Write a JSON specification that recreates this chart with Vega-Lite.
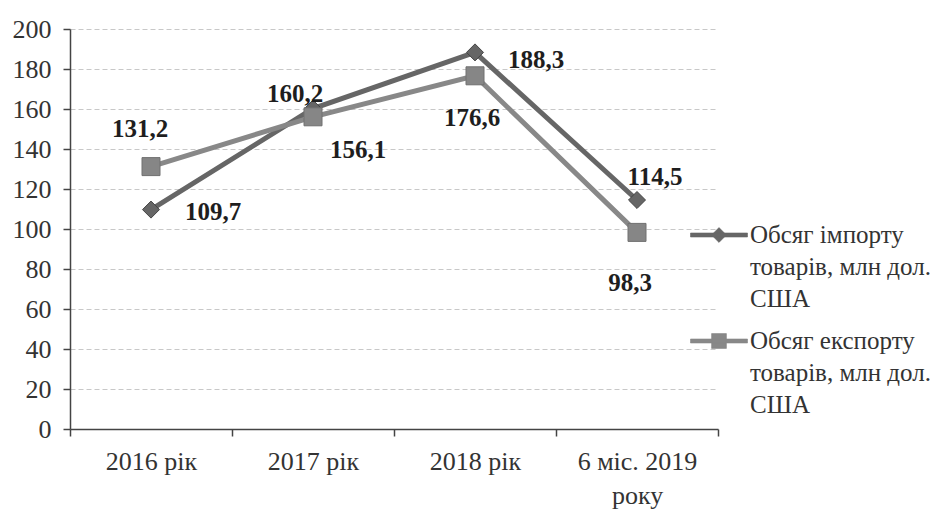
{
  "$schema": "https://vega.github.io/schema/vega-lite/v6.json",
  "width": 648,
  "height": 400,
  "autosize": "none",
  "padding": {"left": 70, "top": 29, "right": 229, "bottom": 82},
  "background": "white",
  "config": {
    "view": {"stroke": null},
    "font": "Liberation Serif, Times New Roman, serif",
    "locale": {"number": {"decimal": ",", "thousands": " ", "grouping": [3], "currency": ["", ""]}}
  },
  "data": {
    "values": [
      {"period": "2016 рік", "series": "Обсяг імпорту товарів, млн дол. США", "value": 109.7},
      {"period": "2017 рік", "series": "Обсяг імпорту товарів, млн дол. США", "value": 160.2},
      {"period": "2018 рік", "series": "Обсяг імпорту товарів, млн дол. США", "value": 188.3},
      {"period": "6 міс. 2019 року", "series": "Обсяг імпорту товарів, млн дол. США", "value": 114.5},
      {"period": "2016 рік", "series": "Обсяг експорту товарів, млн дол. США", "value": 131.2},
      {"period": "2017 рік", "series": "Обсяг експорту товарів, млн дол. США", "value": 156.1},
      {"period": "2018 рік", "series": "Обсяг експорту товарів, млн дол. США", "value": 176.6},
      {"period": "6 міс. 2019 року", "series": "Обсяг експорту товарів, млн дол. США", "value": 98.3}
    ]
  },
  "encoding": {
    "x": {
      "field": "period", "type": "nominal",
      "sort": ["2016 рік", "2017 рік", "2018 рік", "6 міс. 2019 року"],
      "scale": {"type": "band", "paddingInner": 0, "paddingOuter": 0},
      "axis": {
        "title": null, "labelAngle": 0, "tickBand": "extent", "grid": false,
        "domainColor": "#444", "domainWidth": 1.5, "tickColor": "#444", "tickWidth": 1.5, "tickSize": 7,
        "labelFont": "Liberation Serif, Times New Roman, serif", "labelFontSize": 26, "labelColor": "#333", "labelPadding": 12,
        "labelBaseline": "top", "labelLineHeight": 34,
        "labelExpr": "datum.label == '6 міс. 2019 року' ? ['6 міс. 2019', 'року'] : datum.label"
      }
    },
    "y": {
      "field": "value", "type": "quantitative",
      "scale": {"domain": [0, 200]},
      "axis": {
        "title": null, "values": [0, 20, 40, 60, 80, 100, 120, 140, 160, 180, 200],
        "domainColor": "#444", "domainWidth": 1.5, "tickColor": "#444", "tickWidth": 1.5, "tickSize": 7,
        "labelFont": "Liberation Serif, Times New Roman, serif", "labelFontSize": 26, "labelColor": "#333", "labelPadding": 12,
        "gridColor": "#c8c8c8", "gridDash": [5, 3], "gridWidth": 1
      }
    }
  },
  "layer": [
    {
      "mark": {"type": "line", "strokeWidth": 5},
      "encoding": {
        "color": {
          "field": "series", "type": "nominal",
          "scale": {"domain": ["Обсяг імпорту товарів, млн дол. США", "Обсяг експорту товарів, млн дол. США"], "range": ["#666666", "#888888"]},
          "legend": {
            "orient": "none", "legendX": 620, "legendY": 177, "title": null, "padding": 0,
            "labelFont": "Liberation Serif, Times New Roman, serif", "labelFontSize": 25, "labelColor": "#333", "labelLimit": 0,
            "labelOffset": 2, "labelBaseline": "top", "rowPadding": -9, "symbolSize": 3249,
            "labelExpr": "datum.label == 'Обсяг імпорту товарів, млн дол. США' ? ['Обсяг імпорту', 'товарів, млн дол.', 'США'] : ['Обсяг експорту', 'товарів, млн дол.', 'США']",
            "encode": {
              "symbols": {"update": {
                "shape": {"signal": "datum.value == 'Обсяг імпорту товарів, млн дол. США' ? 'M-1,-0.07H1V0.07H-1Z M0,-0.26L0.26,0L0,0.26L-0.26,0Z' : 'M-1,-0.07H1V0.07H-1Z M-0.26,-0.26H0.26V0.26H-0.26Z'"},
                "fill": {"signal": "datum.value == 'Обсяг імпорту товарів, млн дол. США' ? '#666666' : '#888888'"},
                "stroke": {"value": "#555"},
                "strokeWidth": {"value": 0.6},
                "opacity": {"value": 1}
              }},
              "labels": {"update": {"lineHeight": {"value": 32}, "dy": {"value": -12}}}
            }
          }
        }
      }
    },
    {
      "transform": [{"filter": {"field": "series", "equal": "Обсяг імпорту товарів, млн дол. США"}}],
      "mark": {"type": "point", "shape": "diamond", "filled": true, "size": 290, "fill": "#666666", "stroke": "#444", "strokeWidth": 1, "opacity": 1}
    },
    {
      "transform": [{"filter": {"field": "series", "equal": "Обсяг експорту товарів, млн дол. США"}}],
      "mark": {"type": "point", "shape": "square", "filled": true, "size": 324, "fill": "#868686", "stroke": "#707070", "strokeWidth": 1, "opacity": 1}
    },
    {
      "transform": [{"filter": {"and": [{"field": "series", "equal": "Обсяг імпорту товарів, млн дол. США"}, {"field": "period", "equal": "2016 рік"}]}}],
      "mark": {"type": "text", "fontWeight": "bold", "fontSize": 25, "color": "#1e1e1e", "dx": 62, "dy": 2},
      "encoding": {"text": {"field": "value", "type": "quantitative", "format": ".1f"}}
    },
    {
      "transform": [{"filter": {"and": [{"field": "series", "equal": "Обсяг імпорту товарів, млн дол. США"}, {"field": "period", "equal": "2017 рік"}]}}],
      "mark": {"type": "text", "fontWeight": "bold", "fontSize": 25, "color": "#1e1e1e", "dx": -18, "dy": -15},
      "encoding": {"text": {"field": "value", "type": "quantitative", "format": ".1f"}}
    },
    {
      "transform": [{"filter": {"and": [{"field": "series", "equal": "Обсяг імпорту товарів, млн дол. США"}, {"field": "period", "equal": "2018 рік"}]}}],
      "mark": {"type": "text", "fontWeight": "bold", "fontSize": 25, "color": "#1e1e1e", "dx": 61, "dy": 8},
      "encoding": {"text": {"field": "value", "type": "quantitative", "format": ".1f"}}
    },
    {
      "transform": [{"filter": {"and": [{"field": "series", "equal": "Обсяг імпорту товарів, млн дол. США"}, {"field": "period", "equal": "6 міс. 2019 року"}]}}],
      "mark": {"type": "text", "fontWeight": "bold", "fontSize": 25, "color": "#1e1e1e", "dx": 18, "dy": -23},
      "encoding": {"text": {"field": "value", "type": "quantitative", "format": ".1f"}}
    },
    {
      "transform": [{"filter": {"and": [{"field": "series", "equal": "Обсяг експорту товарів, млн дол. США"}, {"field": "period", "equal": "2016 рік"}]}}],
      "mark": {"type": "text", "fontWeight": "bold", "fontSize": 25, "color": "#1e1e1e", "dx": -11, "dy": -38},
      "encoding": {"text": {"field": "value", "type": "quantitative", "format": ".1f"}}
    },
    {
      "transform": [{"filter": {"and": [{"field": "series", "equal": "Обсяг експорту товарів, млн дол. США"}, {"field": "period", "equal": "2017 рік"}]}}],
      "mark": {"type": "text", "fontWeight": "bold", "fontSize": 25, "color": "#1e1e1e", "dx": 45, "dy": 33},
      "encoding": {"text": {"field": "value", "type": "quantitative", "format": ".1f"}}
    },
    {
      "transform": [{"filter": {"and": [{"field": "series", "equal": "Обсяг експорту товарів, млн дол. США"}, {"field": "period", "equal": "2018 рік"}]}}],
      "mark": {"type": "text", "fontWeight": "bold", "fontSize": 25, "color": "#1e1e1e", "dx": -3, "dy": 42},
      "encoding": {"text": {"field": "value", "type": "quantitative", "format": ".1f"}}
    },
    {
      "transform": [{"filter": {"and": [{"field": "series", "equal": "Обсяг експорту товарів, млн дол. США"}, {"field": "period", "equal": "6 міс. 2019 року"}]}}],
      "mark": {"type": "text", "fontWeight": "bold", "fontSize": 25, "color": "#1e1e1e", "dx": -7, "dy": 51},
      "encoding": {"text": {"field": "value", "type": "quantitative", "format": ".1f"}}
    }
  ]
}
